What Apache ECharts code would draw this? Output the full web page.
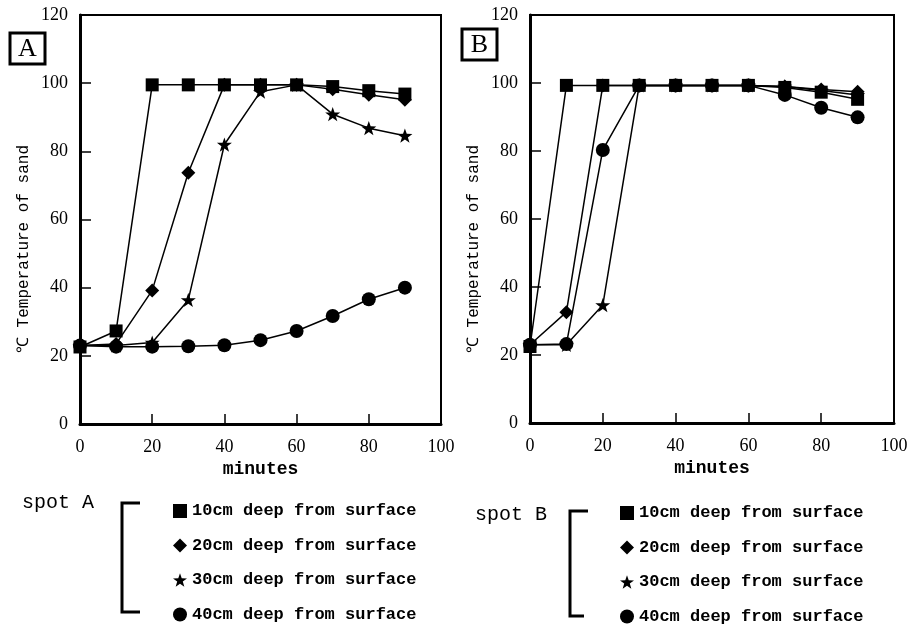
<!DOCTYPE html>
<html>
<head>
<meta charset="utf-8">
<style>
html, body { margin: 0; padding: 0; background: #fff; }
#charts { width: 911px; height: 628px; }
</style>
<script src="https://cdn.jsdelivr.net/npm/echarts@6/dist/echarts.min.js"></script>
</head>
<body>
<div id="charts"></div>
<script type="text/javascript">
// minutes after start
var minutes = [0, 10, 20, 30, 40, 50, 60, 70, 80, 90];
var depthNames = ['10cm deep from surface', '20cm deep from surface', '30cm deep from surface', '40cm deep from surface'];

// spot A, temperature of sand (℃)
var spotA10 = [22.6, 27.3, 99.5, 99.5, 99.5, 99.5, 99.5, 99.0, 97.8, 96.8];
var spotA20 = [23.0, 23.5, 39.2, 73.7, 99.5, 99.5, 99.5, 98.2, 96.6, 95.1];
var spotA30 = [23.0, 23.0, 23.9, 36.4, 82.0, 97.5, 99.5, 90.9, 86.8, 84.6];
var spotA40 = [23.0, 22.7, 22.7, 22.8, 23.1, 24.6, 27.3, 31.7, 36.6, 40.0];

// spot B
var spotB10 = [22.5, 99.3, 99.3, 99.3, 99.3, 99.3, 99.3, 98.7, 97.3, 95.2];
var spotB20 = [23.0, 32.6, 99.3, 99.3, 99.3, 99.3, 99.3, 99.0, 98.1, 97.4];
var spotB30 = [23.0, 23.0, 34.7, 99.3, 99.3, 99.3, 99.3, 99.0, 97.8, 96.5];
var spotB40 = [23.0, 23.2, 80.3, 99.3, 99.3, 99.3, 99.3, 96.5, 92.7, 89.9];

var starPath = 'path://M0,-10L2.35,-3.24L9.51,-3.09L3.8,1.24L5.88,8.09L0,4L-5.88,8.09L-3.8,1.24L-9.51,-3.09L-2.35,-3.24Z';
var symbols = ['rect', 'diamond', starPath, 'circle'];
var symbolSizes = [13, 14, 15, 14];

function pairs(vals) {
    return minutes.map(function (m, i) { return [m, vals[i]]; });
}

function makeSeries(name, vals, k, idx) {
    return {
        name: name,
        type: 'line',
        xAxisIndex: idx,
        yAxisIndex: idx,
        data: pairs(vals),
        symbol: symbols[k],
        symbolSize: symbolSizes[k],
        symbolKeepAspect: true,
        showAllSymbols: true,
        clip: false,
        color: '#000',
        itemStyle: { color: '#000' },
        lineStyle: { color: '#000', width: 1.5 },
        z: 10 - k
    };
}

function xAx(idx) {
    return {
        type: 'value', gridIndex: idx, min: 0, max: 100, interval: 20,
        name: 'minutes', nameLocation: 'middle', nameGap: 34,
        nameTextStyle: { fontFamily: 'Liberation Mono', fontSize: 18, fontWeight: 'bold', color: '#000' },
        axisLine: { lineStyle: { color: '#000', width: 3 } },
        axisTick: { inside: true, length: 10, lineStyle: { color: '#000', width: 1.5 } },
        axisLabel: { margin: 14, fontFamily: 'Liberation Serif', fontSize: 18, color: '#000' },
        splitLine: { show: false }
    };
}

function yAx(idx) {
    return {
        type: 'value', gridIndex: idx, min: 0, max: 120, interval: 20,
        axisLine: { show: true, lineStyle: { color: '#000', width: 3 } },
        axisTick: { show: true, inside: true, length: 11, lineStyle: { color: '#000', width: 1.5 } },
        axisLabel: { margin: 12, fontFamily: 'Liberation Serif', fontSize: 18, color: '#000' },
        splitLine: { show: false }
    };
}

function legendFor(left, top) {
    return {
        orient: 'vertical', left: left, top: top,
        padding: 0,
        itemWidth: 14, itemHeight: 14, itemGap: 14.5,
        selectedMode: false,
        textStyle: { fontFamily: 'Liberation Mono', fontSize: 17, fontWeight: 'bold', color: '#000', lineHeight: 20 },
        data: depthNames.map(function (n, k) {
            return { name: n, icon: symbols[k], itemStyle: { color: '#000' } };
        })
    };
}

function labelBox(x, y, letter) {
    return [
        { type: 'rect', shape: { x: x, y: y, width: 35, height: 31 },
          style: { fill: 'none', stroke: '#000', lineWidth: 3 } },
        { type: 'text', x: x + 17.5, y: y + 16,
          style: { text: letter, fontFamily: 'Liberation Serif', fontSize: 26, fill: '#000',
                   align: 'center', verticalAlign: 'middle' } }
    ];
}

function yName(x) {
    return { type: 'text', x: x, y: 249, rotation: Math.PI / 2,
             style: { text: '℃ Temperature of sand', fontFamily: 'Liberation Mono', fontSize: 16,
                      fill: '#000', align: 'center', verticalAlign: 'middle' } };
}

function bracket(x, y1, y2, x2top, x2bot) {
    return { type: 'polyline', shape: { points: [[x2top, y1], [x, y1], [x, y2], [x2bot, y2]] },
             style: { fill: 'none', stroke: '#000', lineWidth: 3 } };
}

var dom = document.getElementById('charts');
var myChart = echarts.init(dom);
var option = {
    backgroundColor: '#fff',
    animation: false,
    grid: [
        { left: 80, top: 15, width: 361, height: 409, show: true, borderColor: '#000', borderWidth: 2 },
        { left: 530, top: 15, width: 364, height: 408, show: true, borderColor: '#000', borderWidth: 2 }
    ],
    xAxis: [xAx(0), xAx(1)],
    yAxis: [yAx(0), yAx(1)],
    legend: [legendFor(173, 501), legendFor(620, 503)],
    graphic: [].concat(
        labelBox(10, 33, 'A'),
        labelBox(462, 29, 'B'),
        [
            yName(24),
            yName(474),
            { type: 'text', x: 22, y: 503, style: { text: 'spot A', fontFamily: 'Liberation Mono', fontSize: 20, fill: '#000', verticalAlign: 'middle' } },
            { type: 'text', x: 475, y: 515, style: { text: 'spot B', fontFamily: 'Liberation Mono', fontSize: 20, fill: '#000', verticalAlign: 'middle' } },
            bracket(122, 503, 612, 140, 140),
            bracket(570, 511, 616, 588, 584)
        ]
    ),
    series: [
        makeSeries(depthNames[3], spotA40, 3, 0),
        makeSeries(depthNames[2], spotA30, 2, 0),
        makeSeries(depthNames[1], spotA20, 1, 0),
        makeSeries(depthNames[0], spotA10, 0, 0),
        makeSeries(depthNames[3], spotB40, 3, 1),
        makeSeries(depthNames[2], spotB30, 2, 1),
        makeSeries(depthNames[1], spotB20, 1, 1),
        makeSeries(depthNames[0], spotB10, 0, 1)
    ]
};
myChart.setOption(option, true);
</script>
</body>
</html>
